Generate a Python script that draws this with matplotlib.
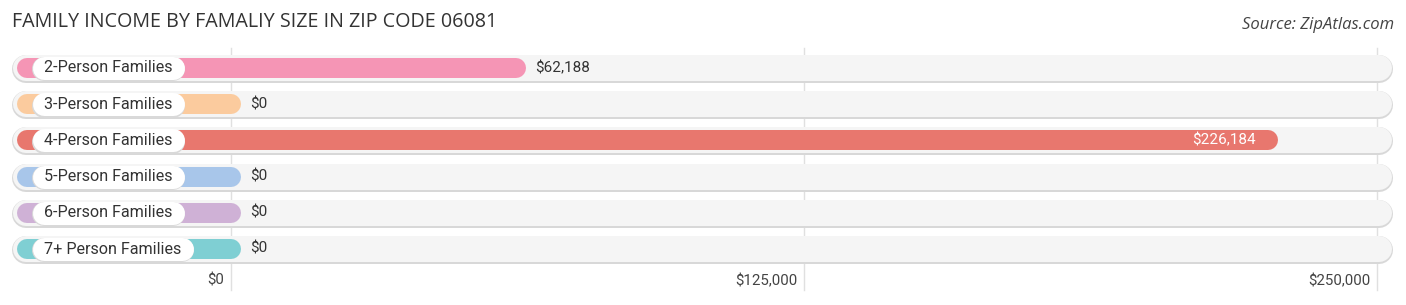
import matplotlib
matplotlib.use("Agg")
import matplotlib.pyplot as plt

categories = ["2-Person Families", "3-Person Families", "4-Person Families",
              "5-Person Families", "6-Person Families", "7+ Person Families"]
values = [62188, 0, 226184, 0, 0, 0]
value_labels = ["$62,188", "$0", "$226,184", "$0", "$0", "$0"]
colors = ["#f595b5", "#fbcb9e", "#e8776e", "#a8c6ea", "#cfb1d6", "#7fcfd3"]
ticks = [0, 125000, 250000]
tick_labels = ["$0", "$125,000", "$250,000"]

W, H, DPI = 1406, 305, 100
X0PX, PXPER = 231, 573 / 125000   # pixel of $0, pixels per dollar
Y0PX, ROWPX = 68, 36.2


def px2x(px):
    return (px - X0PX) / PXPER


def px2y(py):
    return (py - Y0PX) / ROWPX


def dpx(n):
    # width of n pixels in data units
    return n / PXPER


fig = plt.figure(figsize=(W / DPI, H / DPI), dpi=DPI)
ax = fig.add_axes([0, 0, 1, 1])
ax.set_xlim(px2x(0), px2x(W))
ax.set_ylim(px2y(H), px2y(0))
ax.axis("off")

pt = 72 / DPI  # points per pixel

# grid lines
for t in ticks:
    ax.plot([t, t], [px2y(48), px2y(290)], color="#e0e0e0", lw=1, zorder=1)

renderer = fig.canvas.get_renderer()
for i, (cat, v, lab, c) in enumerate(zip(categories, values, value_labels, colors)):
    # track: outline + fill
    ax.plot([px2x(12 + 14), px2x(1393 - 14)], [i + 0.03, i + 0.03], color="#d8d8d8",
            lw=28 * pt, solid_capstyle="round", zorder=2)
    ax.plot([px2x(12 + 14), px2x(1393 - 14)], [i, i], color="#f5f5f5",
            lw=26 * pt, solid_capstyle="round", zorder=3)
    # bar
    ax.plot([px2x(27), v], [i, i], color=c, lw=20 * pt, solid_capstyle="round", zorder=4)
    # category pill
    txt = ax.text(px2x(44), i, cat, ha="left", va="center", fontsize=11.6,
                  color="#333333", family="Roboto", zorder=7)
    tw = txt.get_window_extent(renderer).width
    x_a, x_b = px2x(32 + 11.5), px2x(44 + tw + 12 - 11.5)
    ax.plot([x_a, x_b], [i + 0.04, i + 0.04], color="#d9d9d9", lw=24 * pt,
            solid_capstyle="round", zorder=5)
    ax.plot([x_a, x_b], [i, i], color="white", lw=23 * pt,
            solid_capstyle="round", zorder=6)
    # value label
    if v > 150000:
        ax.text(v - dpx(12), i, lab, ha="right", va="center", fontsize=11,
                color="white", family="Roboto", zorder=7)
    else:
        ax.text(v + dpx(19), i, lab, ha="left", va="center", fontsize=11,
                color="#333333", family="Roboto", zorder=7)

for t, tl in zip(ticks, tick_labels):
    ax.text(t - dpx(7), px2y(281), tl, ha="right", va="center",
            fontsize=10.8, color="#444444", family="Roboto")

fig.text(12 / W, 1 - 22 / H, "FAMILY INCOME BY FAMALIY SIZE IN ZIP CODE 06081",
         ha="left", va="center", fontsize=14.2, color="#333333", family="Open Sans")
fig.text(1394 / W, 1 - 25 / H, "Source: ZipAtlas.com", ha="right", va="center",
         fontsize=12, style="italic", color="#444444", family="Open Sans")

fig.savefig("out.png", dpi=DPI)
